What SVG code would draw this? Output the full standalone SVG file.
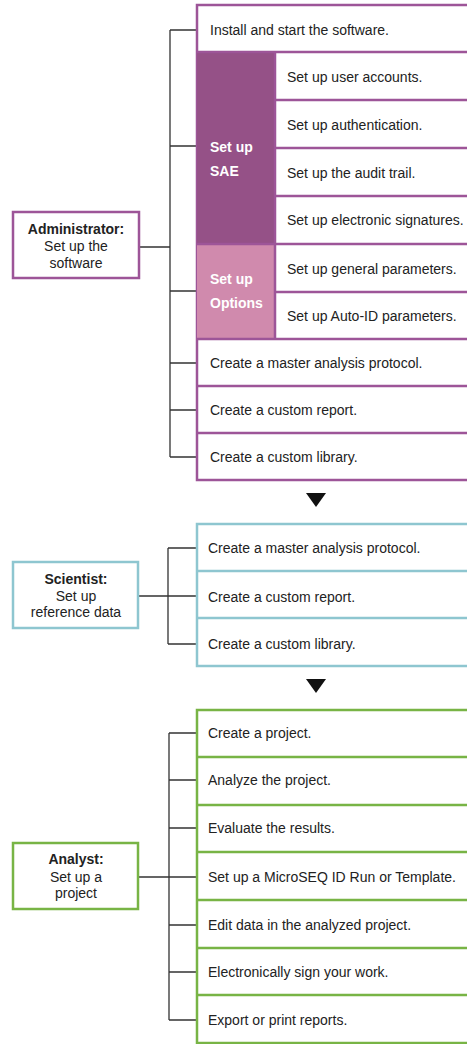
<svg xmlns="http://www.w3.org/2000/svg" width="467" height="1044" viewBox="0 0 467 1044">
<style>
.t{font-family:"Liberation Sans",Arial,sans-serif;font-size:14px;fill:#222}
.c{font-family:"Liberation Sans",Arial,sans-serif;font-size:14px;fill:#222;text-anchor:middle}
.b{font-weight:bold}
.w{font-family:"Liberation Sans",Arial,sans-serif;font-size:14px;font-weight:bold;fill:#fff}
.p{fill:#fff;stroke:#9d5598;stroke-width:2.5}
.pl{stroke:#9d5598;stroke-width:2.5;fill:none}
.s{fill:#fff;stroke:#8ec6d0;stroke-width:2.5}
.sl{stroke:#8ec6d0;stroke-width:2.5;fill:none}
.g{fill:#fff;stroke:#78b445;stroke-width:2.5}
.gl{stroke:#78b445;stroke-width:2.5;fill:none}
.k{stroke:#333;stroke-width:1.3;fill:none}
</style>
<g id="connectors">
<path class="k" d="M170 30V457M170 30H197M170 146H197M139 247H170M170 291H197M170 363H197M170 410H197M170 457H197"/>
<path class="k" d="M168 548V644M168 548H197M138 596H197M168 644H197"/>
<path class="k" d="M169 733V1020M169 733H197M169 780H197M169 828H197M138 877H197M169 925H197M169 972H197M169 1020H197"/>
<path fill="#111" d="M306 493H326L316 507Z"/>
<path fill="#111" d="M306 679H326L316 693Z"/>
</g>
<g id="admin">
<rect class="p" x="13" y="212" width="126" height="66"/>
<text class="c b" x="76" y="234">Administrator:</text>
<text class="c" x="76" y="251">Set up the</text>
<text class="c" x="76" y="268">software</text>
</g>
<g id="admin-tasks">
<rect class="p" x="197" y="5" width="280" height="475"/>
<rect x="197" y="52" width="78" height="192" fill="#955187"/>
<rect x="197" y="244" width="78" height="95" fill="#d08aad"/>
<path class="pl" d="M197 52H470M275 100H470M275 148H470M275 196H470M197 244H470M275 292H470M197 339H470M197 386H470M197 433H470M275 52V339"/>
<text class="t" x="210" y="35">Install and start the software.</text>
<text class="w" x="210" y="152">Set up</text>
<text class="w" x="210" y="176">SAE</text>
<text class="t" x="287" y="82">Set up user accounts.</text>
<text class="t" x="287" y="130">Set up authentication.</text>
<text class="t" x="287" y="178">Set up the audit trail.</text>
<text class="t" x="287" y="225">Set up electronic signatures.</text>
<text class="w" x="210" y="284">Set up</text>
<text class="w" x="210" y="308">Options</text>
<text class="t" x="287" y="274">Set up general parameters.</text>
<text class="t" x="287" y="321">Set up Auto-ID parameters.</text>
<text class="t" x="210" y="368">Create a master analysis protocol.</text>
<text class="t" x="210" y="415">Create a custom report.</text>
<text class="t" x="210" y="462">Create a custom library.</text>
</g>
<g id="scientist">
<rect class="s" x="13" y="562" width="125" height="66"/>
<text class="c b" x="76" y="584">Scientist:</text>
<text class="c" x="76" y="601">Set up</text>
<text class="c" x="76" y="617">reference data</text>
</g>
<g id="scientist-tasks">
<rect class="s" x="197" y="524" width="280" height="142"/>
<path class="sl" d="M197 571H470M197 618H470"/>
<text class="t" x="208" y="553">Create a master analysis protocol.</text>
<text class="t" x="208" y="602">Create a custom report.</text>
<text class="t" x="208" y="649">Create a custom library.</text>
</g>
<g id="analyst">
<rect class="g" x="13" y="843" width="125" height="66"/>
<text class="c b" x="76" y="864">Analyst:</text>
<text class="c" x="76" y="882">Set up a</text>
<text class="c" x="76" y="898">project</text>
</g>
<g id="analyst-tasks">
<rect class="g" x="197" y="710" width="280" height="333"/>
<path class="gl" d="M197 757H470M197 805H470M197 852H470M197 900H470M197 948H470M197 995H470"/>
<text class="t" x="208" y="738">Create a project.</text>
<text class="t" x="208" y="785">Analyze the project.</text>
<text class="t" x="208" y="833">Evaluate the results.</text>
<text class="t" x="208" y="882">Set up a MicroSEQ ID Run or Template.</text>
<text class="t" x="208" y="930">Edit data in the analyzed project.</text>
<text class="t" x="208" y="977">Electronically sign your work.</text>
<text class="t" x="208" y="1025">Export or print reports.</text>
</g>
</svg>
